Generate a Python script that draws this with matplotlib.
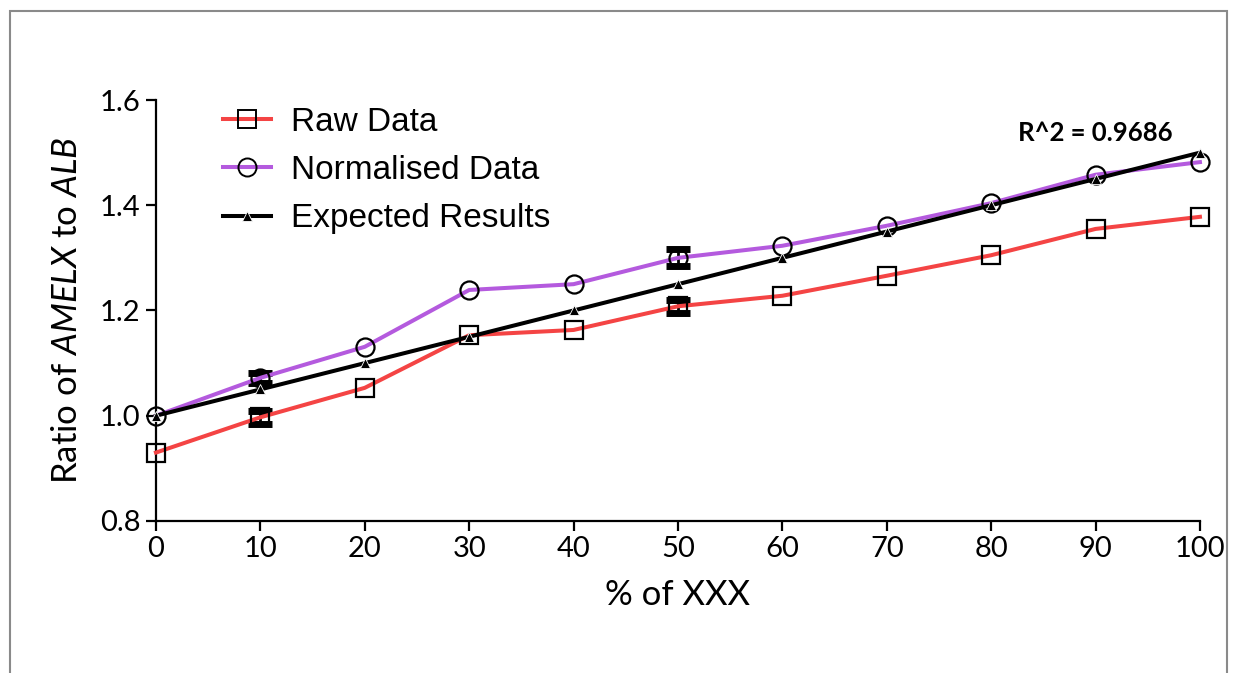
import numpy as np
import matplotlib.pyplot as plt
from matplotlib.patches import Rectangle

plt.rcParams['mathtext.fontset'] = 'custom'
plt.rcParams['mathtext.rm'] = 'Lato'
plt.rcParams['mathtext.it'] = 'Lato:italic'

pct = [0, 10, 20, 30, 40, 50, 60, 70, 80, 90, 100]
raw = [0.93, 0.997, 1.053, 1.153, 1.163, 1.208, 1.228, 1.266, 1.305, 1.355, 1.378]
norm = [1.0, 1.072, 1.131, 1.239, 1.250, 1.300, 1.323, 1.361, 1.404, 1.458, 1.482]
expected = [1.0, 1.05, 1.1, 1.15, 1.2, 1.25, 1.3, 1.35, 1.4, 1.45, 1.5]
raw_err = [0, 0.012, 0, 0, 0, 0.012, 0, 0, 0, 0, 0]
norm_err = [0, 0.01, 0, 0, 0, 0.016, 0, 0, 0, 0, 0]
r2_label = "R^2 = 0.9686"

fig = plt.figure(figsize=(12.34, 6.73), dpi=100)
ax = fig.add_axes([0.1264, 0.2259, 0.846, 0.6255])

x = np.array(pct)
# error bars only where there is an error, drawn under the markers
for y, err in ((raw, raw_err), (norm, norm_err)):
    y = np.array(y)
    err = np.array(err)
    m = err > 0
    ax.errorbar(x[m], y[m], yerr=err[m], fmt='none', ecolor='black', elinewidth=2,
                capsize=8.5, capthick=5, zorder=2)

ax.plot(pct, raw, color='#f44444', lw=2.9, zorder=3)
ax.plot(pct, norm, color='#b45ade', lw=2.9, zorder=3)
ax.plot(pct, expected, color='black', lw=2.9, zorder=4)

ax.plot(pct, raw, ls='none', marker='s', ms=13, mfc='none', mec='black', mew=1.6, zorder=5)
ax.plot(pct, norm, ls='none', marker='o', ms=13, mfc='none', mec='black', mew=1.6, zorder=5)
ax.plot(pct, expected, ls='none', marker='^', ms=6.5, mfc='black', mec='white', mew=0.6, zorder=6)

# legend proxies
h1, = ax.plot([], [], color='#f44444', lw=2.9, marker='s', ms=13, mfc='none', mec='black', mew=1.4)
h2, = ax.plot([], [], color='#b45ade', lw=2.9, marker='o', ms=13, mfc='none', mec='black', mew=1.4)
h3, = ax.plot([], [], color='black', lw=2.9, marker='^', ms=6.5, mfc='black', mec='white', mew=0.6)
ax.legend([h1, h2, h3], ['Raw Data', 'Normalised Data', 'Expected Results'],
          loc='upper left', bbox_to_anchor=(0.156, 0.886), bbox_transform=fig.transFigure,
          frameon=False, handlelength=1.45, handletextpad=0.6, labelspacing=0.52,
          prop={'family': 'Liberation Sans', 'size': 24})

ax.text(90, 1.537, r2_label, ha='center', va='center', fontsize=18.5,
        fontweight='bold', family='Lato')

ax.set_xlim(0, 100)
ax.set_ylim(0.8, 1.6)
ax.set_xticks(pct)
ax.set_yticks([0.8, 1.0, 1.2, 1.4, 1.6])
ax.set_yticklabels(['0.8', '1.0', '1.2', '1.4', '1.6'])
ax.spines['top'].set_visible(False)
ax.spines['right'].set_visible(False)
for s in ['left', 'bottom']:
    ax.spines[s].set_linewidth(1.6)
ax.tick_params(axis='both', length=7, width=1.6, labelsize=21, pad=4)
for lab in ax.get_xticklabels() + ax.get_yticklabels():
    lab.set_family('Lato')
for ln in ax.lines:
    ln.set_clip_on(False)

ax.set_xlabel('% of XXX', fontsize=25, family='Lato', labelpad=12)
ax.set_ylabel(r'Ratio of $\mathit{AMELX}$ to $\mathit{ALB}$', fontsize=25, family='Lato', labelpad=12)

# grey frame around the figure
fig.add_artist(Rectangle((10 / 1234, -0.05), 1217 / 1234, 1 - 11 / 673 + 0.05,
                         transform=fig.transFigure, fill=False, ec='#8a8a8a', lw=1.5))

fig.savefig('out.png', dpi=100)
